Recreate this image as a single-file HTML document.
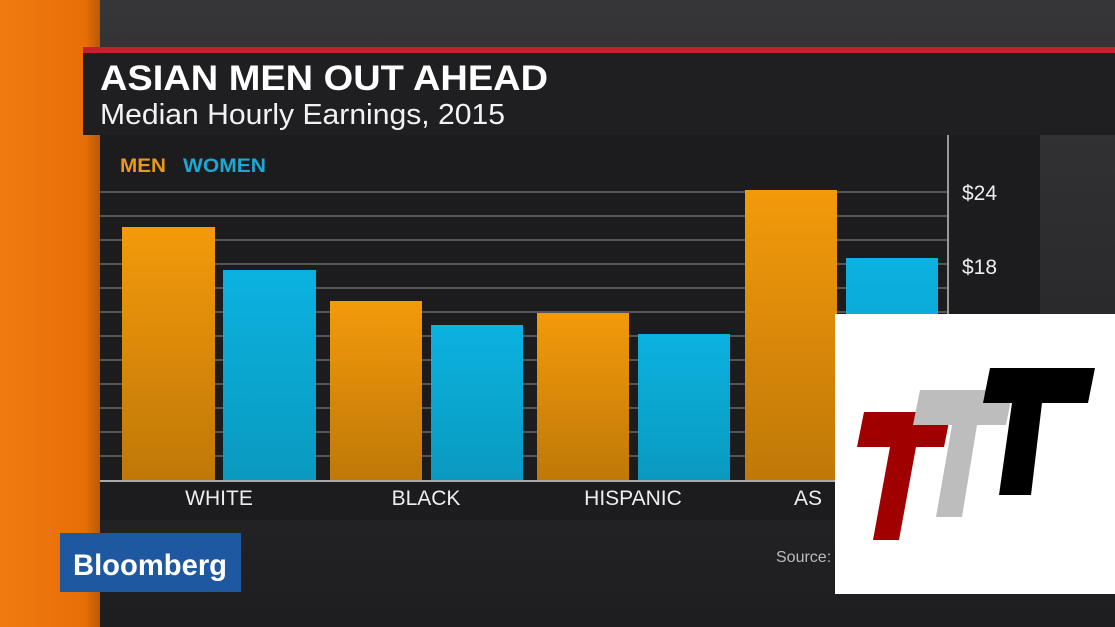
<!DOCTYPE html>
<html><head><meta charset="utf-8"><style>
html,body{margin:0;padding:0;width:1115px;height:627px;overflow:hidden;background:#2a2a2b;font-family:"Liberation Sans",sans-serif}
</style></head><body>
<svg width="1115" height="627" viewBox="0 0 1115 627" xmlns="http://www.w3.org/2000/svg" font-family="Liberation Sans, sans-serif">
<defs>
<linearGradient id="or" x1="0" y1="0" x2="1" y2="0"><stop offset="0" stop-color="#f07a10"/><stop offset="0.85" stop-color="#e86e08"/><stop offset="1" stop-color="#b85a08"/></linearGradient>
<linearGradient id="bg" x1="0" y1="0" x2="0" y2="1"><stop offset="0" stop-color="#363638"/><stop offset="1" stop-color="#1e1e20"/></linearGradient>
<linearGradient id="m" x1="0" y1="0" x2="0" y2="1"><stop offset="0" stop-color="#f39a0a"/><stop offset="1" stop-color="#c07808"/></linearGradient>
<linearGradient id="w" x1="0" y1="0" x2="0" y2="1"><stop offset="0" stop-color="#0bb2e0"/><stop offset="1" stop-color="#0a9ac0"/></linearGradient>
</defs>
<rect width="1115" height="627" fill="url(#bg)"/>
<rect x="0" y="0" width="100" height="627" fill="url(#or)"/>
<rect x="100" y="135" width="940" height="385" fill="#1c1c1e"/>
<rect x="83" y="47" width="1032" height="6" fill="#c8202a"/>
<rect x="83" y="53" width="1032" height="82" fill="#1f1f22"/>
<text x="100" y="90" fill="#fff" font-size="35" font-weight="bold" textLength="448" lengthAdjust="spacingAndGlyphs">ASIAN MEN OUT AHEAD</text>
<text x="100" y="124" fill="#f2f2f2" font-size="29" textLength="405" lengthAdjust="spacingAndGlyphs">Median Hourly Earnings, 2015</text>
<text x="120" y="172" fill="#e8981a" font-size="19" font-weight="bold" textLength="46" lengthAdjust="spacingAndGlyphs">MEN</text>
<text x="183" y="172" fill="#1ba8d2" font-size="19" font-weight="bold" textLength="83" lengthAdjust="spacingAndGlyphs">WOMEN</text>
<g stroke="#555" stroke-width="2">
<line x1="100" y1="192" x2="948" y2="192"/><line x1="100" y1="216" x2="948" y2="216"/><line x1="100" y1="240" x2="948" y2="240"/><line x1="100" y1="264" x2="948" y2="264"/><line x1="100" y1="288" x2="948" y2="288"/><line x1="100" y1="312" x2="948" y2="312"/><line x1="100" y1="336" x2="948" y2="336"/><line x1="100" y1="360" x2="948" y2="360"/><line x1="100" y1="384" x2="948" y2="384"/><line x1="100" y1="408" x2="948" y2="408"/><line x1="100" y1="432" x2="948" y2="432"/><line x1="100" y1="456" x2="948" y2="456"/>
</g>
<rect x="122" y="227" width="93" height="253" fill="url(#m)"/>
<rect x="223" y="270" width="93" height="210" fill="url(#w)"/>
<rect x="330" y="301" width="92" height="179" fill="url(#m)"/>
<rect x="431" y="325" width="92" height="155" fill="url(#w)"/>
<rect x="537" y="313" width="92" height="167" fill="url(#m)"/>
<rect x="638" y="334" width="92" height="146" fill="url(#w)"/>
<rect x="745" y="190" width="92" height="290" fill="url(#m)"/>
<rect x="846" y="258" width="92" height="222" fill="url(#w)"/>
<line x1="100" y1="481" x2="948" y2="481" stroke="#aaa" stroke-width="2"/>
<line x1="948" y1="135" x2="948" y2="481" stroke="#999" stroke-width="2"/>
<text x="962" y="200" fill="#eee" font-size="21">$24</text>
<text x="962" y="274" fill="#eee" font-size="21">$18</text>
<g fill="#eee" font-size="21" text-anchor="middle">
<text x="219" y="505">WHITE</text><text x="426" y="505">BLACK</text><text x="633" y="505">HISPANIC</text><text x="808" y="505">AS</text>
</g>
<text x="776" y="562" fill="#bbb" font-size="16">Source:</text>
<rect x="60" y="533" width="181" height="59" fill="#1e58a0"/>
<text x="73" y="575" fill="#fff" font-size="30" font-weight="bold" textLength="154" lengthAdjust="spacingAndGlyphs">Bloomberg</text>
<rect x="835" y="314" width="280" height="280" fill="#fff"/>
<polygon points="864,412 951,412 944,447 916,447 899,540 873,540 890,447 857,447" fill="#a00000"/>
<polygon points="920,390 1013,390 1006,425 977,425 962,517 936,517 952,425 913,425" fill="#bdbdbd"/>
<polygon points="990,368 1095,368 1088,403 1042,403 1031,495 999,495 1012,403 983,403" fill="#000"/>
</svg>
</body></html>
